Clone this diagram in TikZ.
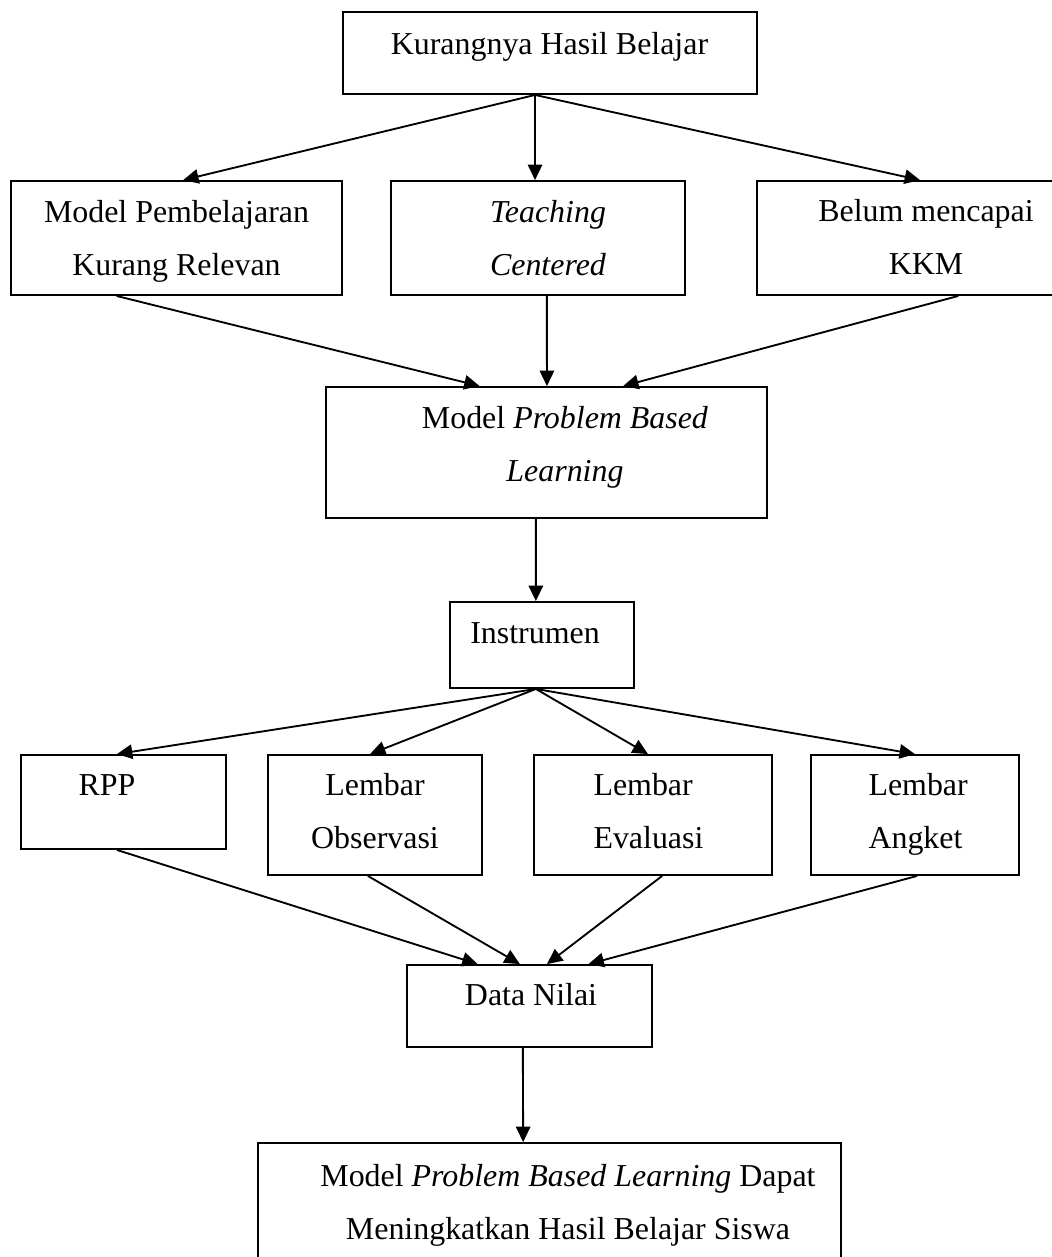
\documentclass[tikz,border=0pt]{standalone}
\usepackage{fontspec}
\setmainfont{Liberation Serif}
\usetikzlibrary{arrows.meta,calc}
\newcommand\px{0.376pt}
\tikzset{
  box/.style 2 args={draw,line width=0.7pt,inner sep=0pt,minimum width=#1*\px,minimum height=#2*\px},
  lbl/.style={inner sep=0pt,anchor=base,align=center,font=\fontsize{12pt}{19.9pt}\selectfont},
  arr/.style={line width=0.7pt,-{Triangle[length=5.8pt,width=5.4pt]}}
}
\begin{document}
\begin{tikzpicture}[x=\px,y=-\px]
\useasboundingbox (0,0) rectangle (1052,1257);
%boxes
\node[box={414}{82}] (kur) at (550,53) {};
\node[box={331}{114}] (mpk) at (176.5,238) {};
\node[box={294}{114}] (tc) at (538,238) {};
\node[box={299}{114}] (kkm) at (906.5,238) {};
\node[box={441}{131}] (pbl) at (546.5,452.5) {};
\node[box={184}{86}] (ins) at (542,645) {};
\node[box={205}{94}] (rpp) at (123.5,802) {};
\node[box={214}{120}] (obs) at (375,815) {};
\node[box={238}{120}] (eva) at (653,815) {};
\node[box={208}{120}] (ang) at (915,815) {};
\node[box={245}{82}] (dat) at (529.5,1006) {};
\node[box={583}{122}] (hsl) at (549.5,1204) {};
%texts (base = last line)
\node[lbl] (kur-t) at (549.5,54) {Kurangnya Hasil Belajar};
\node[lbl] (mpk-t) at (176.5,275) {Model Pembelajaran\\Kurang Relevan};
\node[lbl] (tc-t) at (548,275) {\textit{Teaching}\\\textit{Centered}};
\node[lbl] (kkm-t) at (926,274) {Belum mencapai\\KKM};
\node[lbl] (pbl-t) at (565,481) {Model \textit{Problem Based}\\\textit{Learning}};
\node[lbl] (ins-t) at (535,643) {Instrumen};
\node[lbl] (rpp-t) at (107,795) {RPP};
\node[lbl] (obs-t) at (375,848) {Lembar\\Observasi};
\node[lbl,anchor=base west,align=left] (eva-t) at (593,848) {Lembar\\Evaluasi};
\node[lbl,anchor=base west,align=left] (ang-t) at (868,848) {Lembar\\Angket};
\node[lbl] (dat-t) at (531,1005) {Data Nilai};
\node[lbl] (hsl-t) at (568,1239) {Model \textit{Problem Based Learning} Dapat\\Meningkatkan Hasil Belajar Siswa};
%arrows
\draw[arr] ($(kur.south west)!.464!(kur.south east)$) -- ($(mpk.north west)!.52!(mpk.north east)$);
\draw[arr] ($(kur.south west)!.464!(kur.south east)$) -- ($(tc.north west)!.49!(tc.north east)$);
\draw[arr] ($(kur.south west)!.464!(kur.south east)$) -- ($(kkm.north west)!.545!(kkm.north east)$);

\draw[arr] ($(mpk.south west)!.32!(mpk.south east)$) -- ($(pbl.north west)!.349!(pbl.north east)$);
\draw[arr] ($(tc.south west)!.53!(tc.south east)$) -- ($(pbl.north west)!.501!(pbl.north east)$);
\draw[arr] ($(kkm.south west)!.672!(kkm.south east)$) -- ($(pbl.north west)!.673!(pbl.north east)$);

\draw[arr] ($(pbl.south west)!.476!(pbl.south east)$) -- ($(ins.north west)!.467!(ins.north east)$);

\draw[arr] ($(ins.south west)!.467!(ins.south east)$) -- ($(rpp.north west)!.468!(rpp.north east)$);
\draw[arr] ($(ins.south west)!.467!(ins.south east)$) -- ($(obs.north west)!.477!(obs.north east)$);
\draw[arr] ($(ins.south west)!.467!(ins.south east)$) -- ($(eva.north west)!.479!(eva.north east)$);
\draw[arr] ($(ins.south west)!.467!(ins.south east)$) -- ($(ang.north west)!.5!(ang.north east)$);

\draw[arr] ($(rpp.south west)!.468!(rpp.south east)$) -- ($(dat.north west)!.29!(dat.north east)$);
\draw[arr] ($(obs.south west)!.467!(obs.south east)$) -- ($(dat.north west)!.461!(dat.north east)$);
\draw[arr] ($(eva.south west)!.538!(eva.south east)$) -- ($(dat.north west)!.571!(dat.north east)$);
\draw[arr] ($(ang.south west)!.51!(ang.south east)$) -- ($(dat.north west)!.739!(dat.north east)$);

\draw[arr] ($(dat.south west)!.473!(dat.south east)$) -- ($(hsl.north west)!.455!(hsl.north east)$);
\end{tikzpicture}
\end{document}
